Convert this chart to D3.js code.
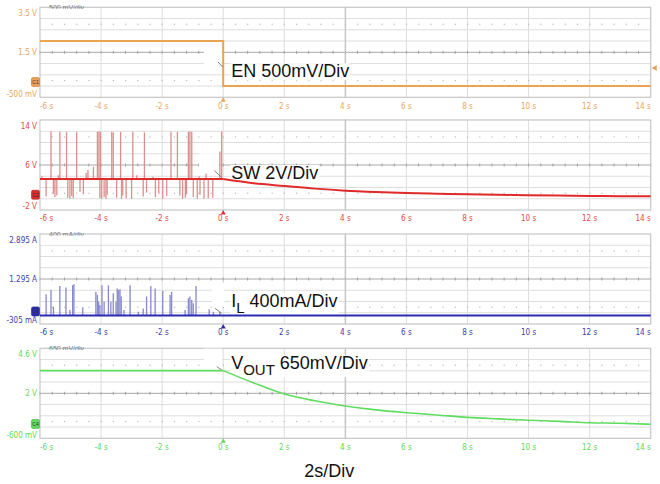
<!DOCTYPE html>
<html lang="en">
<head>
<meta charset="utf-8">
<title>EN / SW / IL / VOUT waveforms</title>
<style>
  body { margin: 0; background: #fff; }
  svg { display: block; }
  .axisLabel { font-family: "Liberation Sans Narrow", "DejaVu Sans Condensed", Arial, sans-serif; font-size: 8px; }
  .chLabel { font-family: "Liberation Sans", Arial, sans-serif; font-size: 18px; fill: #111; }
  .hidden { font-family: "Liberation Sans", Arial, sans-serif; font-size: 7px; fill: #777; }
</style>
</head>
<body>
<div id="scope"></div>
<script src="https://cdn.jsdelivr.net/npm/d3@7"></script>
<script>

var width = 660, height = 484,
    left = 40, right = 650.7,
    panelTops = [7.3, 120, 234, 348.3],
    panelHeight = 90,
    divs = 8;

// time axis (2 s/div)
var timeTicks = [-6, -4, -2, 0, 2, 4, 6, 8, 10, 12, 14];

// channel settings: screen top / centre / bottom values and their labels
var channels = ["EN", "SW", "IL", "VOUT"],
    chTop = [3.5, 14, 2.895, 4.6],
    chBot = [-0.5, -2, -0.305, -0.6],
    topLabels = ["3.5 V", "14 V", "2.895 A", "4.6 V"],
    midLabels = ["1.5 V", "6 V", "1.295 A", "2 V"],
    botLabels = ["-500 mV", "-2 V", "-305 mA", "-600 mV"],
    hiddenScale = ["500 mV/div", "", "400 mA/div", "650 mV/div"],
    markerText = ["C1", "C2", "C3", "C4"],
    labelMain = ["EN", "SW", "I", "V"],
    labelSub = ["", "", "L", "OUT"],
    labelRest = [" 500mV/Div", " 2V/Div", " 400mA/Div", " 650mV/Div"],
    labelAt = [0.39, 3.5, 0.29, 3.39];

// EN: 2 V until t = 0, then 0 V
var enT = [-6, 0, 0, 14],
    enV = [2.0, 2.0, 0, 0];

// SW: ~3.5 V with switching spikes, then decays after t = 0
var swT = [-6, 0, 1, 2, 3, 4, 5, 6, 7, 8, 9, 10, 11, 12, 13, 14],
    swV = [3.5, 3.5, 2.75, 2.27, 1.80, 1.44, 1.20, 1.02, 0.91, 0.79, 0.73, 0.61, 0.56, 0.49, 0.46, 0.44],
    swSpikeT = [-5.64, -5.35, -5.13, -4.80, -4.12, -4.07, -4.02, -3.65, -3.60, -3.36, -2.96, -2.58,
                -1.71, -1.50, -1.14, -1.09, -1.03, -0.05,
                -5.94, -5.40, -4.49, -4.43, -4.25, -2.83, -2.30, -0.79, -0.56, -0.11,
                -5.80, -5.56, -5.51, -5.45, -5.09, -5.02, -4.96, -4.91, -4.69, -4.58, -4.04, -3.98,
                -3.90, -3.84, -3.80, -3.49, -3.33, -3.29, -3.18, -3.00, -2.62, -2.51, -2.22, -2.11,
                -1.98, -1.85, -1.42, -1.33, -1.24, -1.20, -0.98, -0.85, -0.76, -0.63, -0.49, -0.34],
    swSpikeV = [12.0, 11.9, 11.9, 11.9, 11.9, 12.0, 11.9, 11.9, 11.8, 11.9, 11.9, 11.8,
                11.9, 11.9, 11.9, 12.0, 11.9, 12.0,
                4.0, 4.2, 4.6, 5.1, 5.7, 4.2, 3.9, 4.0, 4.5, 8.4,
                0.4, 0.9, 0.3, 0.6, 0.2, 0.0, 0.5, 0.1, 1.2, 0.8, 0.1, 0.0,
                0.3, 0.0, 0.7, 0.2, 0.0, 0.6, 0.1, 0.0, 0.4, 1.1, 0.3, 0.9,
                0.0, 0.5, 0.6, 0.0, 0.2, 0.8, 0.3, 0.0, 0.7, 0.0, 0.1, 0.2],
    swLevel = 3.5;

// IL: 0 A with current pulses before t = 0
var ilT = [-6, 14],
    ilA = [0, 0],
    ilSpikeT = [-5.80, -5.64, -5.56, -5.35, -5.15, -5.02, -4.93, -4.89, -4.60, -4.17, -4.12, -4.08,
                -4.04, -3.97, -3.90, -3.76, -3.68, -3.60, -3.51, -3.47, -3.42, -3.38, -3.34, -3.25,
                -3.05, -2.78, -2.62, -2.51, -2.37, -2.23, -1.98, -1.74, -1.69, -1.25, -1.14, -1.09,
                -1.03, -0.98, -0.89, -0.46, -0.32, -0.11],
    ilSpikeA = [0.75, 0.90, 0.31, 1.05, 0.99, 0.19, 1.07, 1.11, 0.29, 0.84, 0.73, 0.49,
                0.37, 1.07, 0.49, 1.07, 0.49, 0.79, 0.49, 0.96, 0.90, 0.93, 0.67, 0.19,
                1.07, 0.13, 0.25, 0.67, 1.05, 0.96, 0.88, 0.73, 0.84, 0.19, 0.61, 0.67,
                0.55, 0.43, 1.05, 0.22, 0.13, 0.13];

// VOUT: 3.3 V, discharging after t = 0
var voutT = [-6, 0, 1, 2, 3, 4, 5, 6, 7, 8, 9, 10, 11, 12, 13, 14],
    voutV = [3.31, 3.31, 2.6, 1.96, 1.57, 1.27, 1.04, 0.88, 0.75, 0.61, 0.52, 0.44, 0.38, 0.30, 0.27, 0.21];

var traceColors = ["#E9A352", "#E02A2A", "#2B2BB2", "#5FDD5F"],
    spikeColors = ["#E9A352", "#DB8E8E", "#8787CF", "#5FDD5F"],
    textColors = ["#EBA660", "#E24A4A", "#3D3DA8", "#5FDA55"];

var traces = [[enT, enV], [swT, swV], [ilT, ilA], [voutT, voutV]],
    spikes = [[[], []], [swSpikeT, swSpikeV], [ilSpikeT, ilSpikeA], [[], []]],
    spikeBase = [0, swLevel, 0, 0],
    smooth = [false, true, false, true];

// white patches and leader lines left over on the screenshot, [t0, t1, v0, v1]
var masks = [[-0.63, -0.05, 1.69, 0.85], [-0.79, -0.11, 8.08, 4.88], [-0.37, 0.03, 1.14, 0.31], [-0.63, -0.04, 4.58, 3.50]],
    leaders = [[-0.17, -0.02, 1.07, 0.85], [-0.29, -0.05, 5.0, 3.8], [-0.27, -0.05, 0.253, 0.075], [-0.21, -0.05, 3.54, 3.35]];

var svg = d3.select("#scope").append("svg")
    .attr("width", width)
    .attr("height", height);

var x = d3.scaleLinear().domain([-6, 14]).range([left, right]);

channels.forEach(function(name, i) {

  var top = panelTops[i],
      bottom = top + panelHeight,
      perDiv = (chTop[i] - chBot[i]) / divs,
      mid = chBot[i] + perDiv * divs / 2;

  var y = d3.scaleLinear().domain([chBot[i], chTop[i]]).range([bottom, top]);

  var g = svg.append("g").attr("class", "panel-" + name);

  g.append("rect")
   .attr("x", left).attr("y", top)
   .attr("width", right - left).attr("height", panelHeight)
   .style("fill", "#fff");

  // horizontal grid
  g.selectAll("line.hgrid")
   .data(d3.range(1, divs))
   .enter().append("line")
   .attr("class", "hgrid")
   .attr("x1", left).attr("x2", right)
   .attr("y1", function(k){ return y(chBot[i] + k * perDiv); })
   .attr("y2", function(k){ return y(chBot[i] + k * perDiv); })
   .style("stroke", function(k){ return k == 4 ? "#a8a8a8" : "#dedede"; })
   .style("stroke-width", 1);

  // vertical grid
  g.selectAll("line.vgrid")
   .data(timeTicks.slice(1, -1))
   .enter().append("line")
   .attr("class", "vgrid")
   .attr("x1", function(d){ return x(d); })
   .attr("x2", function(d){ return x(d); })
   .attr("y1", top).attr("y2", bottom)
   .style("stroke", function(d){ return d == 4 ? "#b4b4b4" : "#dedede"; })
   .style("stroke-width", 1);

  // minor ticks on the centre lines
  var minorT = d3.range(-6, 14.001, 0.4);
  g.selectAll("line.hminor")
   .data(minorT)
   .enter().append("line")
   .attr("class", "hminor")
   .attr("x1", function(d){ return x(d); })
   .attr("x2", function(d){ return x(d); })
   .attr("y1", y(mid) - 1.5).attr("y2", y(mid) + 1.5)
   .style("stroke", "#a0a0a0");

  g.selectAll("line.vminor")
   .data(d3.range(0, divs + 0.001, 0.2))
   .enter().append("line")
   .attr("class", "vminor")
   .attr("x1", x(4) - 1).attr("x2", x(4) + 1)
   .attr("y1", function(k){ return y(chBot[i] + k * perDiv); })
   .attr("y2", function(k){ return y(chBot[i] + k * perDiv); })
   .style("stroke", "#d0d0d0");

  // dotted rows
  [1.5, 6.5].forEach(function(k){
    g.selectAll(null)
     .data(minorT.slice(1, -1))
     .enter().append("rect")
     .attr("x", function(d){ return x(d) - 0.5; })
     .attr("y", y(chBot[i] + k * perDiv) - 0.5)
     .attr("width", 1.2).attr("height", 1.2)
     .style("fill", "#b8b8b8");
  });

  g.append("rect")
   .attr("x", left).attr("y", top)
   .attr("width", right - left).attr("height", panelHeight)
   .style("fill", "none")
   .style("stroke", "#c6c6c6")
   .style("stroke-width", 1.2);

  // clipped scale caption in the top-left corner
  g.append("text")
   .attr("class", "hidden")
   .attr("x", left + 9).attr("y", top + 2.8)
   .text(hiddenScale[i]);

  g.append("rect")
   .attr("x", left + 0.7).attr("y", top + 1.6)
   .attr("width", x(-4.05) - left - 0.7)
   .attr("height", y(chBot[i] + 7 * perDiv) - top - 2.1)
   .style("fill", "#fff");

  var m = masks[i];
  g.append("rect")
   .attr("x", x(m[0])).attr("y", y(m[2]))
   .attr("width", x(m[1]) - x(m[0]))
   .attr("height", y(m[3]) - y(m[2]))
   .style("fill", "#fff");

  // layer for the label background, under the traces
  var bgLayer = g.append("g");

  // y labels
  var yl = g.append("g").attr("class", "axisLabel")
            .style("fill", textColors[i])
            .attr("text-anchor", "end");
  yl.append("text").attr("x", left - 3).attr("y", top + 6).attr("dy", "0.35em").text(topLabels[i]);
  yl.append("text").attr("x", left - 3).attr("y", y(mid)).attr("dy", "0.35em").text(midLabels[i]);
  yl.append("text").attr("x", left - 3).attr("y", bottom - 3.5).attr("dy", "0.35em").text(botLabels[i]);

  // time labels
  g.selectAll("text.tlab")
   .data(timeTicks)
   .enter().append("text")
   .attr("class", "tlab axisLabel")
   .attr("x", function(d){ return x(d); })
   .attr("y", bottom + 8.5)
   .attr("dy", "0.35em")
   .attr("text-anchor", function(d, j){ return j == 0 ? "start" : (j == timeTicks.length - 1 ? "end" : "middle"); })
   .style("fill", textColors[i])
   .text(function(d){ return d + " s"; });

  // spikes
  var sp = d3.zip(spikes[i][0], spikes[i][1]);
  g.selectAll("line.spike")
   .data(sp)
   .enter().append("line")
   .attr("class", "spike")
   .attr("x1", function(d){ return x(d[0]); })
   .attr("x2", function(d){ return x(d[0]); })
   .attr("y1", y(spikeBase[i]))
   .attr("y2", function(d){ return y(d[1]); })
   .style("stroke", spikeColors[i])
   .style("stroke-width", 1.3);

  // main trace: flat part and (smoothed) decay drawn separately
  var pts = d3.zip(traces[i][0], traces[i][1]),
      parts = smooth[i]
        ? [pts.filter(function(d){ return d[0] <= 0; }), pts.filter(function(d){ return d[0] >= 0; })]
        : [pts];

  parts.forEach(function(part, j) {
    var line = d3.line()
                 .x(function(d){ return x(d[0]); })
                 .y(function(d){ return y(d[1]); })
                 .curve(smooth[i] && j == 1 ? d3.curveMonotoneX : d3.curveLinear);
    g.append("path")
     .datum(part)
     .attr("d", line)
     .style("fill", "none")
     .style("stroke", traceColors[i])
     .style("stroke-width", i == 3 ? 1.6 : 2);
  });

  // leader line
  var l = leaders[i];
  g.append("line")
   .attr("x1", x(l[0])).attr("y1", y(l[2]))
   .attr("x2", x(l[1])).attr("y2", y(l[3]))
   .style("stroke", "#777")
   .style("stroke-width", 0.9);

  // ground marker
  g.append("rect")
   .attr("x", left - 8.5).attr("y", y(0) - 8.5)
   .attr("width", 8).attr("height", 9)
   .attr("rx", 1.5)
   .style("fill", traceColors[i])
   .style("stroke", d3.color(traceColors[i]).darker(0.8))
   .style("stroke-width", 0.6);
  g.append("text")
   .attr("x", left - 4.5).attr("y", y(0) - 4)
   .attr("dy", "0.35em")
   .attr("text-anchor", "middle")
   .style("font-family", "Liberation Sans, Arial, sans-serif")
   .style("font-size", "5px")
   .style("fill", "#333")
   .text(markerText[i]);

  // trigger position
  g.append("path")
   .attr("d", "M" + x(0) + "," + bottom + "l-2.5,4.5h5z")
   .style("fill", traceColors[i]);

  // channel label
  var lab = g.append("text")
             .attr("class", "chLabel")
             .attr("x", x(0.26))
             .attr("y", y(labelAt[i]));
  lab.append("tspan").text(labelMain[i]);
  if (labelSub[i]) {
    lab.append("tspan").attr("dy", 6).style("font-size", "15px").text(labelSub[i]);
    lab.append("tspan").attr("dy", -6).text(labelRest[i]);
  } else {
    lab.append("tspan").text(labelRest[i]);
  }
  var bb = lab.node().getBBox();
  bgLayer.append("rect")
   .attr("x", bb.x - 1).attr("y", bb.y + 2)
   .attr("width", bb.width + 2).attr("height", bb.height - 3)
   .style("fill", "#fff");

  // trigger level on EN
  if (i == 0) {
    g.append("path")
     .attr("d", "M" + (right + 1) + "," + y(0.8) + "l5,-3v6z")
     .style("fill", traceColors[i]);
  }
});

svg.append("text")
   .attr("class", "chLabel")
   .attr("x", x(2.65))
   .attr("y", 476.7)
   .text("2s/Div");

</script>
</body>
</html>
